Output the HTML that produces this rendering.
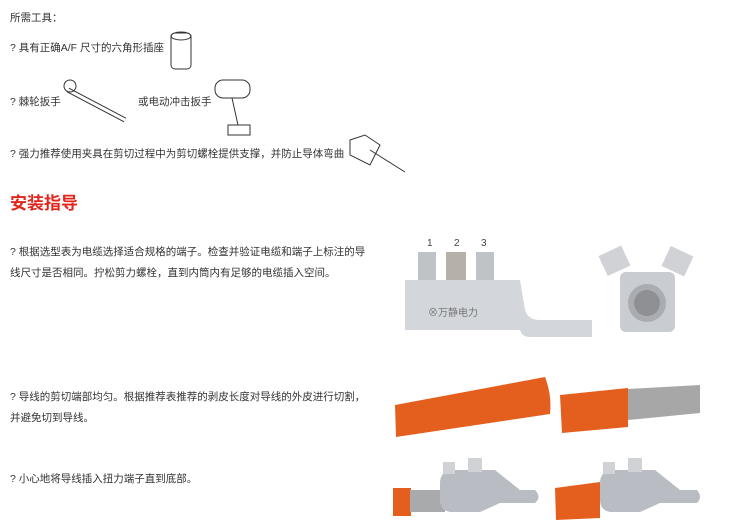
<!DOCTYPE html><html><head><meta charset="utf-8"><style>
body{margin:0;width:750px;height:528px;background:#fff;position:relative;overflow:hidden;font-family:"Liberation Sans","Noto Sans CJK SC",sans-serif;color:#333;font-size:10.5px}
.t{position:absolute;white-space:nowrap}
</style></head><body>
<div class="t" style="left:10px;top:10px">所需工具：</div>
<div class="t" style="left:10px;top:40px">? 具有正确A/F 尺寸的六角形插座</div>
<div class="t" style="left:10px;top:94px">? 棘轮扳手</div>
<div class="t" style="left:138px;top:94px">或电动冲击扳手</div>
<div class="t" style="left:10px;top:146px">? 强力推荐使用夹具在剪切过程中为剪切螺栓提供支撑，并防止导体弯曲</div>
<div class="t" style="left:10px;top:189px;color:#e3261c;font-size:17px;font-weight:bold">安装指导</div>
<div class="t" style="left:10px;top:244px">? 根据选型表为电缆选择适合规格的端子。检查并验证电缆和端子上标注的导</div>
<div class="t" style="left:10px;top:265px">线尺寸是否相同。拧松剪力螺栓，直到内筒内有足够的电缆插入空间。</div>
<div class="t" style="left:10px;top:389px">? 导线的剪切端部均匀。根据推荐表推荐的剥皮长度对导线的外皮进行切割，</div>
<div class="t" style="left:10px;top:410px">并避免切到导线。</div>
<div class="t" style="left:10px;top:471px">? 小心地将导线插入扭力端子直到底部。</div>
<svg width="750" height="528" style="position:absolute;left:0;top:0" fill="none" stroke="#333" stroke-width="1">
<rect x="171" y="33" width="20" height="36" rx="4"/><ellipse cx="181" cy="36" rx="10" ry="4"/>
<line x1="68" y1="90" x2="125" y2="120" stroke-width="5"/><line x1="68" y1="90" x2="125" y2="120" stroke="#fff" stroke-width="3"/>
<circle cx="70" cy="86" r="6"/>
<rect x="215" y="80" width="35" height="18" rx="8"/><path d="M232 98 L238 125 M228 125 h22 v10 h-22z"/>
<path d="M350 140 l15 -5 l15 10 l-10 20 l-20 -10 z M370 150 l35 22" />
<g stroke="none">
<text x="427" y="246" fill="#444" font-size="10">1</text><text x="454" y="246" fill="#444" font-size="10">2</text><text x="481" y="246" fill="#444" font-size="10">3</text>
<rect x="418" y="252" width="18" height="30" fill="#bfc2c6"/><rect x="446" y="252" width="20" height="32" fill="#b5b0a8"/><rect x="476" y="252" width="18" height="30" fill="#bfc2c6"/>
<path d="M405 280 H520 L525 310 Q528 320 540 320 H592 V337 H530 Q522 337 520 330 H405 Z" fill="#d3d6db"/>
<text x="428" y="316" fill="#777" font-size="10">⊗万静电力</text>
<rect x="602" y="250" width="25" height="22" fill="#d0d2d5" transform="rotate(-25 614 261)"/>
<rect x="665" y="250" width="25" height="22" fill="#d0d2d5" transform="rotate(25 677 261)"/>
<rect x="620" y="272" width="55" height="60" rx="6" fill="#c9ccd1"/>
<circle cx="647" cy="303" r="19" fill="#a9acb0"/><circle cx="647" cy="303" r="13" fill="#8e9094"/>
<path d="M395 405 L545 377 Q552 395 550 414 L396 437 Z" fill="#e45f1e"/>
<path d="M560 395 L628 388 V427 L562 433 Z" fill="#e45f1e"/>
<path d="M628 389 L700 385 V413 L628 420 Z" fill="#a7a7a7"/>
<rect x="393" y="488" width="18" height="28" fill="#e45f1e"/>
<rect x="410" y="490" width="35" height="22" fill="#a9aaac"/>
<path d="M440 483 Q440 470 455 470 H495 L520 490 H535 Q542 497 535 503 H500 L480 512 H450 Q440 510 440 500 Z" fill="#b9bcc2"/>
<rect x="443" y="462" width="12" height="12" fill="#d0d2d5"/><rect x="468" y="458" width="14" height="14" fill="#d0d2d5"/>
<path d="M555 488 L600 482 V518 L556 520 Z" fill="#e45f1e"/>
<path d="M600 483 Q600 470 615 470 H655 L680 490 H697 Q703 497 697 503 H660 L640 512 H610 Q600 510 600 500 Z" fill="#b9bcc2"/>
<rect x="603" y="462" width="12" height="12" fill="#d0d2d5"/><rect x="628" y="458" width="14" height="14" fill="#d0d2d5"/>
</g>
</svg>
</body></html>
